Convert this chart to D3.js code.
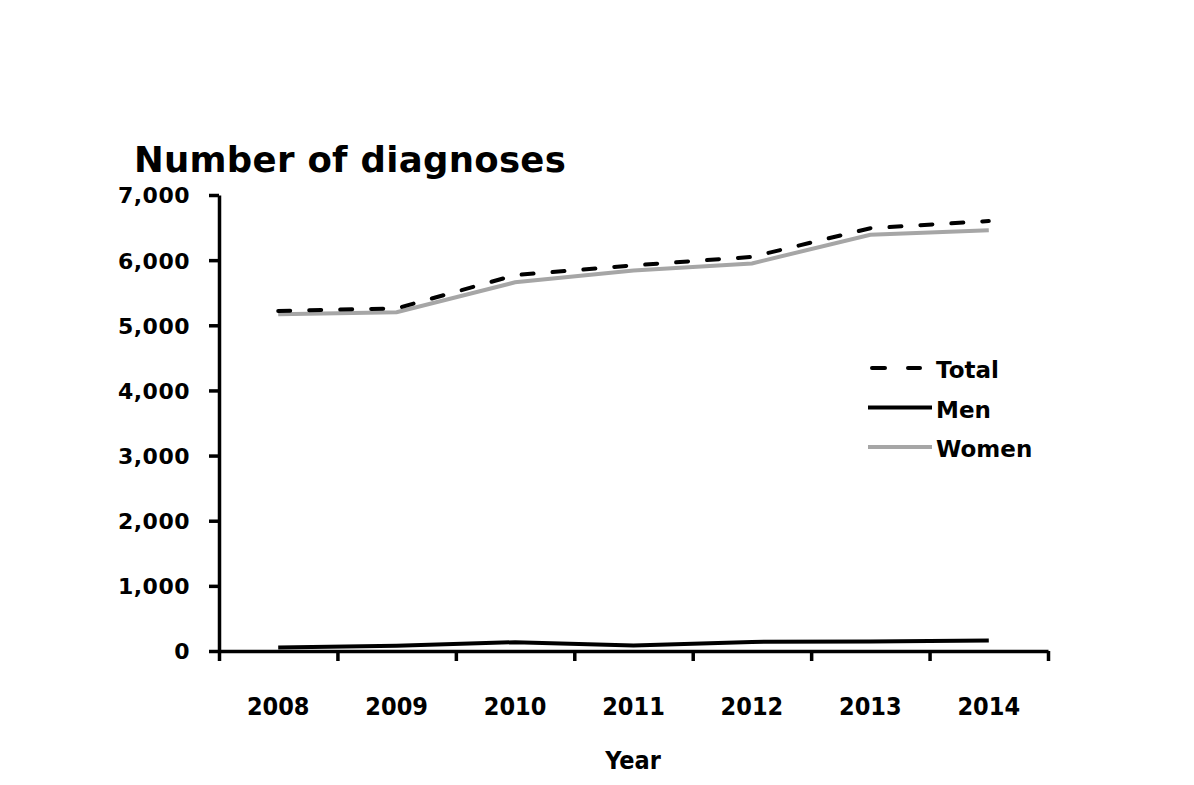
<!DOCTYPE html>
<html><head><meta charset="utf-8">
<script src="https://cdn.jsdelivr.net/npm/d3@7"></script>
<style>body{margin:0;background:#fff}</style>
</head><body>
<svg id="c" width="1194" height="785"></svg>
<script>
const years = ["2008","2009","2010","2011","2012","2013","2014"];
const totalValues = [5220, 5260, 5770, 5920, 6050, 6490, 6600];
const menValues   = [55, 80, 135, 85, 140, 145, 160];
const womenValues = [5170, 5200, 5660, 5840, 5950, 6390, 6460];
const yTicks = [0,1000,2000,3000,4000,5000,6000,7000];
const seriesNames = ["Total","Men","Women"];

(function(){
const svg = d3.select("#c");
const mL = 219, mR = 1048, mT = 195, mB = 651;
const x = d3.scaleBand().domain(years).range([mL, mR]);
const y = d3.scaleLinear().domain([0, 7000]).range([mB, mT]);
const xi = d3.scaleLinear().domain([0, years.length]).range([mL, mR]);

// Y axis
const ya = svg.append("g").attr("transform", `translate(${mL},0)`)
  .call(d3.axisLeft(y).tickValues(yTicks).tickFormat(d3.format(",")).tickSize(10).tickSizeOuter(0).tickPadding(19));
ya.select(".domain").attr("stroke","#000").attr("stroke-width",3.5);
ya.selectAll(".tick line").attr("stroke","#000").attr("stroke-width",3.5);
ya.selectAll(".tick text").attr("fill","#000").style("font-family","DejaVu Sans").style("font-weight","bold").style("font-size","22px").style("letter-spacing","0.5px").attr("dy","0.36em");

// X axis (ticks at category boundaries)
const xa = svg.append("g").attr("transform", `translate(0,${mB})`)
  .call(d3.axisBottom(xi).tickValues(d3.range(years.length + 1)).tickFormat("").tickSize(10).tickSizeOuter(0));
xa.select(".domain").attr("stroke","#000").attr("stroke-width",3.5);
xa.selectAll(".tick line").attr("stroke","#000").attr("stroke-width",3.5);

svg.append("g").selectAll("text").data(years).join("text")
  .attr("x", d => x(d) + x.bandwidth()/2).attr("y", 715)
  .attr("text-anchor","middle")
  .style("font-family","DejaVu Sans Condensed, DejaVu Sans").style("font-weight","bold").style("font-size","25px")
  .text(d => d);

svg.append("text").attr("x", 633).attr("y", 769).attr("text-anchor","middle")
  .style("font-family","DejaVu Sans Condensed, DejaVu Sans").style("font-weight","bold").style("font-size","25px")
  .text("Year");

svg.append("text").attr("x", 134).attr("y", 172)
  .style("font-family","DejaVu Sans").style("font-weight","bold").style("font-size","35.5px")
  .style("letter-spacing","0.3px")
  .text("Number of diagnoses");

const line = d3.line().x((d,i) => x(years[i]) + x.bandwidth()/2).y(d => y(d));
const styles = {
  Total: {data: totalValues, stroke:"#000", dash:"12,19"},
  Men:   {data: menValues, stroke:"#000", dash:null},
  Women: {data: womenValues, stroke:"#a6a6a6", dash:null}
};
["Women","Men","Total"].forEach(n => {
  const s = styles[n];
  svg.append("path").datum(s.data).attr("d", line)
    .attr("fill","none").attr("stroke", s.stroke).attr("stroke-width",4)
    .attr("stroke-linecap", s.dash ? "round" : "butt")
    .attr("stroke-dasharray", s.dash);
});

// Legend
const lg = svg.append("g");
seriesNames.forEach((n,i) => {
  const s = styles[n];
  const ly = 368 + i*39.5;
  lg.append("line").attr("x1", s.dash ? 872 : 868).attr("x2", s.dash ? 920 : 932).attr("y1", ly).attr("y2", ly)
    .attr("stroke", s.stroke).attr("stroke-width",4)
    .attr("stroke-linecap", s.dash ? "round" : "butt")
    .attr("stroke-dasharray", s.dash ? "13,23" : null);
  lg.append("text").attr("x", 936).attr("y", ly + 10)
    .style("font-family","DejaVu Sans").style("font-weight","bold").style("font-size","23px")
    .text(n);
});
})();
</script>
</body></html>
